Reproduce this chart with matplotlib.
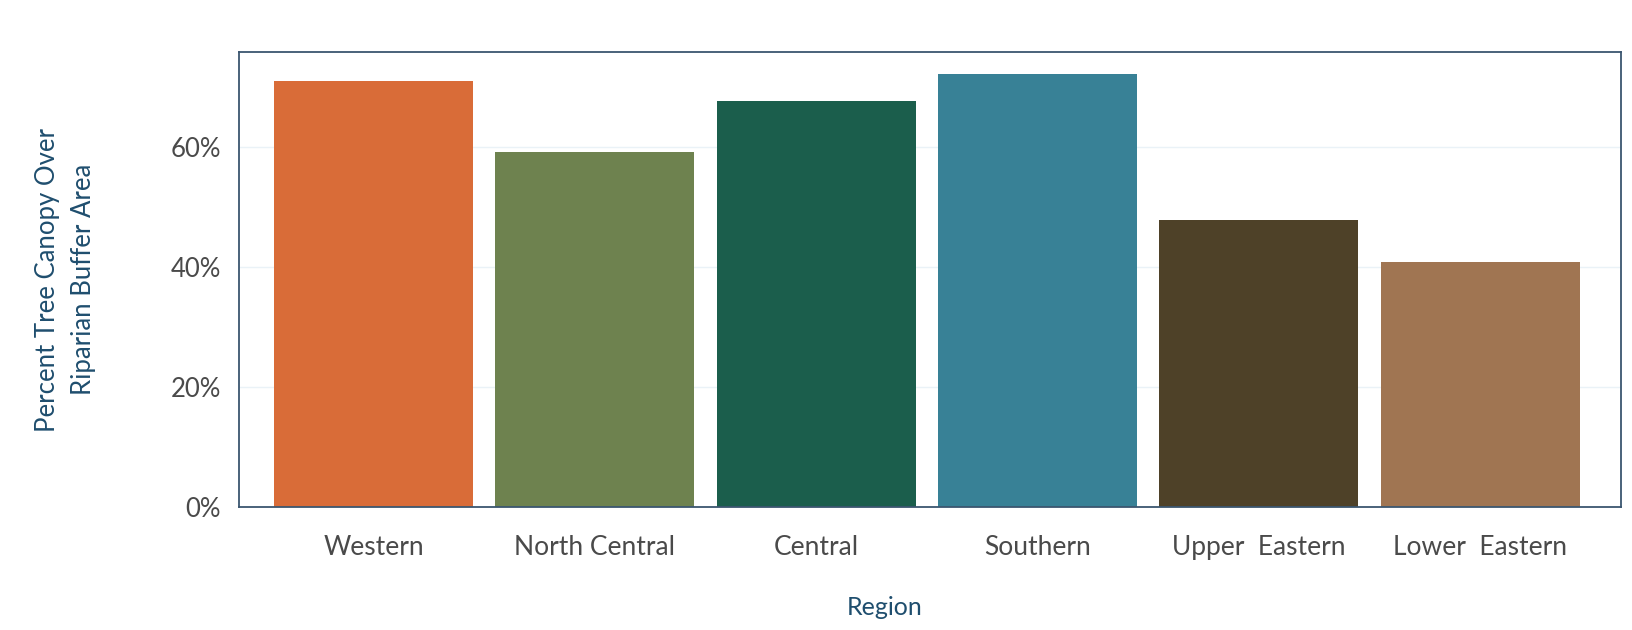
import numpy as np
import matplotlib.pyplot as plt
from matplotlib.ticker import FuncFormatter

# Data
regions = ["Western", "North Central", "Central", "Southern", "Upper  Eastern", "Lower  Eastern"]
canopy_pct = [71.0, 59.2, 67.7, 72.2, 47.9, 40.9]
bar_colors = ["#D96C38", "#6E824F", "#1B5E4C", "#388196", "#4E4128", "#A07552"]

plt.rcParams['font.family'] = ['Lato', 'DejaVu Sans']

fig = plt.figure(figsize=(16.33, 6.3), dpi=100)
ax = fig.add_axes([0.1465, 0.195, 0.8462, 0.7225])

x = np.arange(len(regions))
ax.bar(x, canopy_pct, width=0.9, color=bar_colors, zorder=2)

ax.set_xlim(-0.607, 5.637)
ax.set_ylim(0, 75.8)
ax.set_yticks([0, 20, 40, 60])
ax.yaxis.set_major_formatter(FuncFormatter(lambda v, p: f"{v:.0f}%"))
ax.set_xticks(x)
ax.set_xticklabels(regions)

ax.grid(axis='y', color='#EAF2F7', linewidth=1, zorder=0)
ax.tick_params(axis='both', length=0, colors='#4A4A4A')
ax.tick_params(axis='x', pad=20, labelsize=19)
ax.tick_params(axis='y', pad=13, labelsize=18.5)

for s in ax.spines.values():
    s.set_color('#3B5670')
    s.set_linewidth(1.3)

ax.set_ylabel("Percent Tree Canopy Over\nRiparian Buffer Area", color='#1F4E6E', fontsize=18.5,
              linespacing=1.55)
ax.yaxis.label.set_va('center')
ax.yaxis.set_label_coords(-0.126, 0.5)
ax.set_xlabel("Region", color='#1F4E6E', fontsize=18)
ax.xaxis.label.set_va('center')
ax.xaxis.set_label_coords(0.467, -0.22)

fig.savefig("out.png", dpi=100, facecolor='white')
